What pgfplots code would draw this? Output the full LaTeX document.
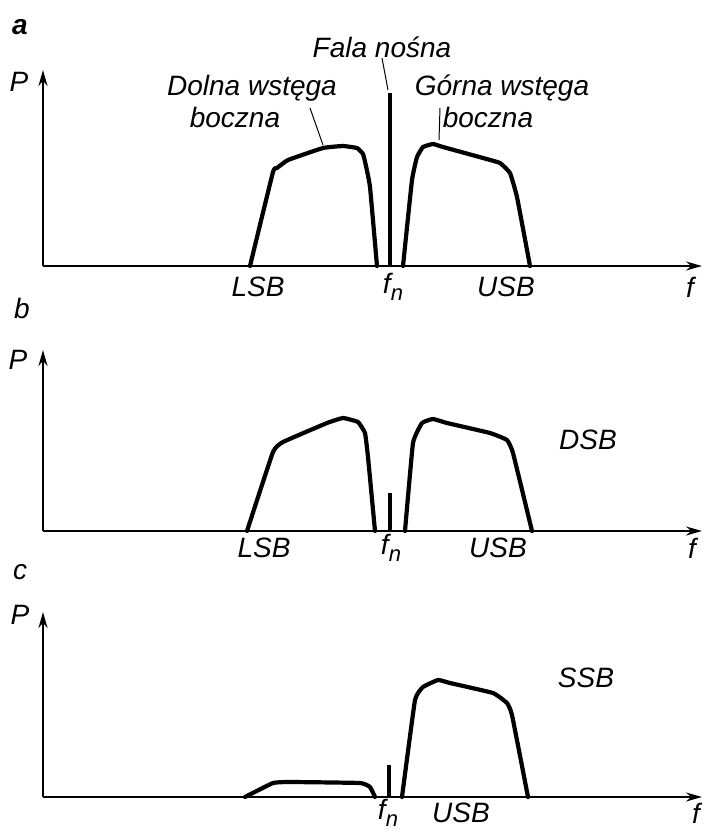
\documentclass[border=0pt]{standalone}
\usepackage{fontspec}
\setmainfont{Liberation Sans}[ItalicFont={Liberation Sans Italic}, BoldItalicFont={Liberation Sans Bold Italic}]
\usepackage{pgfplots}
\pgfplotsset{compat=1.18}
\usetikzlibrary{arrows.meta}
\newcommand{\fn}{f\raisebox{-0.45ex}{\fontsize{11}{11}\selectfont\itshape n}}
\tikzset{lab/.style={font=\itshape\fontsize{14}{16}\selectfont, inner sep=1pt}}
\pgfplotsset{
  panel/.style={
    scale only axis, clip=false,
    axis lines=left,
    axis line style={line width=1pt, -{Stealth[length=8pt,width=4.5pt]}},
    xtick=\empty, ytick=\empty,
    xmin=43, xmax=702, ymin=0,
    width=329.5pt,
    anchor=south west,
  },
  band/.style={black, line width=2.1pt, line join=round, line cap=round, no markers, smooth, tension=0.2},
  carrier/.style={black, line width=1.6pt, no markers},
}
\begin{document}
\begin{tikzpicture}
\useasboundingbox (0,0) rectangle (352pt,-416pt);
% ---------- panel a ----------
\begin{axis}[panel, at={(21.5pt,-133pt)}, ymax=196, height=98pt]
\addplot[band] coordinates {(250,0) (273,94) (277,98) (288,106) (323,118) (343,120) (357,118) (363,112) (366,100) (370,79) (377,0)};
\addplot[carrier] coordinates {(390,0) (390,173)};
\addplot[band] coordinates {(403,0) (412,86) (417,109) (423,119) (433,122) (443,119) (483,108) (500,103) (510,93) (517,69) (530,0)};
\node[lab] at (axis cs:20,239) {\bfseries a};
\node[lab] at (axis cs:19,184) {P};
\node[lab] at (axis cs:258,-21) {LSB};
\node[lab] at (axis cs:393,-21) {\fn};
\node[lab] at (axis cs:506,-21) {USB};
\node[lab] at (axis cs:690,-21) {f};
\node[lab] at (axis cs:382,219) {Fala nośna};
\draw[line width=0.5pt] (axis cs:382,208) -- (axis cs:388,176);
\node[lab] at (axis cs:252,178) {Dolna wstęga};
\node[lab] at (axis cs:235,149) {boczna};
\draw[line width=0.5pt] (axis cs:310,158) -- (axis cs:323,121);
\node[lab] at (axis cs:502,178) {Górna wstęga};
\node[lab] at (axis cs:488,149) {boczna};
\draw[line width=0.5pt] (axis cs:440,158) -- (axis cs:439,126);
\end{axis}
% ---------- panel b ----------
\begin{axis}[panel, at={(21.5pt,-265.5pt)}, ymax=181, height=90.5pt]
\addplot[band] coordinates {(247,0) (273,79) (283,89) (327,108) (343,113) (358,109) (365,98) (368,74) (375,0)};
\addplot[carrier] coordinates {(390,0) (390,38)};
\addplot[band] coordinates {(405,0) (413,88) (422,108) (433,112) (447,108) (490,98) (507,91) (513,78) (532,0)};
\node[lab] at (axis cs:22,223) {b};
\node[lab] at (axis cs:18,171) {P};
\node[lab] at (axis cs:264,-17) {LSB};
\node[lab] at (axis cs:391,-17) {\fn};
\node[lab] at (axis cs:498,-17) {USB};
\node[lab] at (axis cs:692,-17) {f};
\node[lab] at (axis cs:588,91) {DSB};
\end{axis}
% ---------- panel c ----------
\begin{axis}[panel, at={(21.5pt,-398.5pt)}, ymax=185, height=92.5pt]
\addplot[band] coordinates {(245,0) (273,14) (290,15) (360,14) (370,10) (375,0)};
\addplot[carrier] coordinates {(389,0) (389,32)};
\addplot[band] coordinates {(402,0) (415,97) (423,110) (438,117) (450,114) (493,104) (507,94) (512,82) (528,0)};
\node[lab] at (axis cs:20,225) {c};
\node[lab] at (axis cs:20,182) {P};
\node[lab] at (axis cs:388,-16) {\fn};
\node[lab] at (axis cs:461,-16) {USB};
\node[lab] at (axis cs:696,-16) {f};
\node[lab] at (axis cs:586,119) {SSB};
\end{axis}
\end{tikzpicture}
\end{document}
